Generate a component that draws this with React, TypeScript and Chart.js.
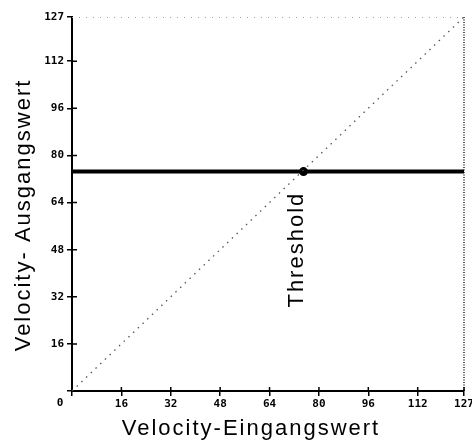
import React, { useEffect, useRef } from 'react';
import { Chart, registerables } from 'chart.js';

Chart.register(...registerables);

// ---- data ----
const AXIS_MIN = 0;
const AXIS_MAX = 127;
const TICK_VALUES = [0, 16, 32, 48, 64, 80, 96, 112, 127];
const IDENTITY_X = [0, 127];
const IDENTITY_Y = [0, 127];
const THRESHOLD = 75;
const OUTPUT_X = [0, 127];
const OUTPUT_Y = [74.5, 74.5];
const THRESHOLD_POINT_X = [75];
const THRESHOLD_POINT_Y = [74.5];
const THRESHOLD_LABEL = 'Threshold';
const THRESHOLD_LABEL_Y = 48;
const X_TITLE = 'Velocity-Eingangswert';
const Y_TITLE = 'Velocity- Ausgangswert';
const ORIGIN_LABEL = '0';

const TICK_FONT = { family: '"DejaVu Sans Mono", monospace', size: 11, weight: 'bold' as const };
const TITLE_FONT = '22px "Liberation Sans", Arial, sans-serif';

const decorPlugin = {
  id: 'decor',
  beforeDatasetsDraw(chart: any) {
    const { ctx, chartArea: a } = chart;
    ctx.save();
    ctx.strokeStyle = '#a0a0a0';
    ctx.lineWidth = 1;
    ctx.setLineDash([1, 6]);
    ctx.beginPath();
    ctx.moveTo(a.left, a.top + 0.5);
    ctx.lineTo(a.right, a.top + 0.5);
    ctx.stroke();
    ctx.strokeStyle = '#222';
    ctx.lineWidth = 1.5;
    ctx.setLineDash([1, 1.5]);
    ctx.beginPath();
    ctx.moveTo(a.right, a.top);
    ctx.lineTo(a.right, a.bottom);
    ctx.stroke();
    ctx.restore();
  },
  afterDraw(chart: any) {
    const { ctx, chartArea: a, scales } = chart;
    const xs = scales.x;
    const ys = scales.y;
    ctx.save();
    // inner halves of the axis ticks
    ctx.strokeStyle = '#000';
    ctx.lineWidth = 1.5;
    ctx.beginPath();
    TICK_VALUES.forEach((v) => {
      if (v === AXIS_MIN) return;
      const px = xs.getPixelForValue(v);
      ctx.moveTo(px, a.bottom);
      ctx.lineTo(px, a.bottom - 4);
      if (v !== AXIS_MAX) {
        const py = ys.getPixelForValue(v);
        ctx.moveTo(a.left, py);
        ctx.lineTo(a.left + 5, py);
      }
    });
    ctx.stroke();

    // origin label shared by both axes
    ctx.fillStyle = '#000';
    ctx.font = `bold ${TICK_FONT.size}px ${TICK_FONT.family}`;
    ctx.textAlign = 'center';
    ctx.textBaseline = 'middle';
    ctx.fillText(ORIGIN_LABEL, xs.getPixelForValue(AXIS_MIN) - 12, a.bottom + 12);

    // titles
    ctx.font = TITLE_FONT;
    (ctx as any).letterSpacing = '2px';
    ctx.textAlign = 'center';
    ctx.textBaseline = 'alphabetic';
    ctx.fillText(X_TITLE, (a.left + a.right) / 2 - 17, a.bottom + 44);

    ctx.save();
    ctx.translate(a.left - 42, (a.top + a.bottom) / 2 + 11);
    ctx.rotate(-Math.PI / 2);
    ctx.fillText(Y_TITLE, 0, 0);
    ctx.restore();

    ctx.save();
    ctx.translate(xs.getPixelForValue(THRESHOLD), ys.getPixelForValue(THRESHOLD_LABEL_Y));
    ctx.rotate(-Math.PI / 2);
    ctx.fillText(THRESHOLD_LABEL, 0, 0);
    ctx.restore();

    ctx.restore();
  },
};

const toPoints = (xs: number[], ys: number[]) => xs.map((x, i) => ({ x, y: ys[i] }));

export default function App() {
  const canvasRef = useRef<HTMLCanvasElement | null>(null);

  useEffect(() => {
    if (!canvasRef.current) return;
    const axisCommon = {
      type: 'linear' as const,
      min: AXIS_MIN,
      max: AXIS_MAX,
      afterBuildTicks: (scale: any) => {
        scale.ticks = TICK_VALUES.map((v) => ({ value: v }));
      },
      grid: {
        drawOnChartArea: false,
        drawTicks: true,
        tickLength: 5,
        color: '#000',
        lineWidth: 1.5,
      },
      border: { color: '#000', width: 2 },
    };
    const chart = new Chart(canvasRef.current, {
      type: 'line',
      data: {
        datasets: [
          {
            label: 'Identität',
            data: toPoints(IDENTITY_X, IDENTITY_Y),
            borderColor: '#555',
            borderWidth: 1.3,
            borderDash: [1.5, 5],
            pointRadius: 0,
            fill: false,
          },
          {
            label: 'Ausgang',
            data: toPoints(OUTPUT_X, OUTPUT_Y),
            borderColor: '#000',
            borderWidth: 4,
            pointRadius: 0,
            fill: false,
          },
          {
            label: 'Threshold',
            data: toPoints(THRESHOLD_POINT_X, THRESHOLD_POINT_Y),
            borderColor: '#000',
            backgroundColor: '#000',
            showLine: false,
            pointRadius: 4.5,
            pointBorderWidth: 0,
          },
        ],
      },
      options: {
        animation: false,
        responsive: true,
        maintainAspectRatio: false,
        layout: { padding: { top: 17, right: 12, bottom: 0, left: 0 } },
        plugins: {
          legend: { display: false },
          tooltip: { enabled: false },
        },
        scales: {
          x: {
            ...axisCommon,
            afterFit: (scale: any) => {
              scale.height = 51;
            },
            ticks: {
              font: TICK_FONT,
              color: '#000',
              padding: 2,
              maxRotation: 0,
              autoSkip: false,
              callback: (v: any) => (v === AXIS_MIN ? '' : String(v)),
            },
          },
          y: {
            ...axisCommon,
            afterFit: (scale: any) => {
              scale.width = 72;
            },
            ticks: {
              font: TICK_FONT,
              color: '#000',
              padding: 3,
              autoSkip: false,
              callback: (v: any) => (v === AXIS_MIN ? '' : String(v)),
            },
          },
        },
      },
      plugins: [decorPlugin],
    } as any);
    return () => chart.destroy();
  }, []);

  return (
    <div
      style={{
        position: 'fixed',
        left: 0,
        top: 0,
        width: 472,
        height: 442,
        overflow: 'hidden',
        background: '#fff',
      }}
    >
      <div style={{ position: 'relative', width: 476, height: 442 }}>
        <canvas ref={canvasRef} />
      </div>
    </div>
  );
}
